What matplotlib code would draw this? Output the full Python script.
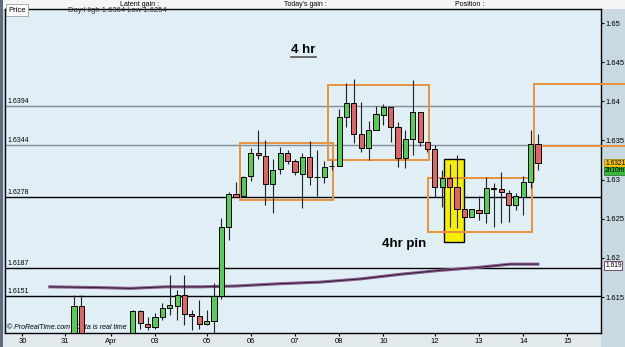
import matplotlib.pyplot as plt
from matplotlib.patches import Rectangle

plt.rcParams['font.family'] = ['Liberation Sans', 'DejaVu Sans']

# 4hr candles, x = bar number (bars 2-7 are below the visible range)
bar_idx = [0, 1] + list(range(8, 64))
opens = [1.6095, 1.6139, 1.6100, 1.6132, 1.6116, 1.6112, 1.6124, 1.6136, 1.6138, 1.6152,
         1.6128, 1.6126, 1.6116, 1.6119, 1.6151, 1.6239, 1.6281, 1.6279, 1.6304, 1.6334,
         1.6330, 1.6294, 1.6313, 1.6334, 1.6324, 1.6307, 1.6329, 1.6303, 1.6303, 1.6317,
         1.6317, 1.6380, 1.6398, 1.6358, 1.6340, 1.6364, 1.6382, 1.6393, 1.6367, 1.6327,
         1.6352, 1.6386, 1.6348, 1.6339, 1.6290, 1.6302, 1.6290, 1.6262, 1.6252, 1.6261,
         1.6257, 1.6289, 1.6288, 1.6283, 1.6267, 1.6278, 1.6297, 1.6345]
closes = [1.6139, 1.6095, 1.6132, 1.6117, 1.6112, 1.6124, 1.6136, 1.6140, 1.6152, 1.6128,
          1.6126, 1.6116, 1.6119, 1.6151, 1.6239, 1.6281, 1.6278, 1.6303, 1.6334, 1.6331,
          1.6294, 1.6312, 1.6334, 1.6324, 1.6310, 1.6329, 1.6303, 1.6303, 1.6316, 1.6317,
          1.6380, 1.6398, 1.6358, 1.6340, 1.6364, 1.6384, 1.6393, 1.6367, 1.6327, 1.6352,
          1.6386, 1.6348, 1.6339, 1.6290, 1.6302, 1.6290, 1.6262, 1.6252, 1.6262, 1.6257,
          1.6289, 1.6288, 1.6284, 1.6267, 1.6279, 1.6297, 1.6345, 1.6321]
highs = [1.6152, 1.6152, 1.6133, 1.6133, 1.6124, 1.6130, 1.6142, 1.6178, 1.6159, 1.6178,
         1.6133, 1.6146, 1.6133, 1.6168, 1.6251, 1.6284, 1.6297, 1.6305, 1.6340, 1.6364,
         1.6350, 1.6326, 1.6342, 1.6338, 1.6326, 1.6334, 1.6349, 1.6338, 1.6324, 1.6325,
         1.6390, 1.6423, 1.6428, 1.6399, 1.6375, 1.6394, 1.6396, 1.6393, 1.6373, 1.6363,
         1.6427, 1.6387, 1.6348, 1.6344, 1.6312, 1.6320, 1.6331, 1.6262, 1.6262, 1.6279,
         1.6303, 1.6296, 1.6310, 1.6287, 1.6283, 1.6304, 1.6364, 1.6358]
lows = [1.6090, 1.6088, 1.6095, 1.6109, 1.6108, 1.6109, 1.6121, 1.6127, 1.6121, 1.6114,
        1.6108, 1.6109, 1.6114, 1.6100, 1.6147, 1.6223, 1.6278, 1.6278, 1.6298, 1.6326,
        1.6267, 1.6257, 1.6307, 1.6320, 1.6306, 1.6264, 1.6293, 1.6279, 1.6296, 1.6312,
        1.6317, 1.6367, 1.6347, 1.6335, 1.6325, 1.6364, 1.6370, 1.6348, 1.6316, 1.6315,
        1.6331, 1.6343, 1.6335, 1.6278, 1.6265, 1.6239, 1.6238, 1.6251, 1.6252, 1.6248,
        1.6244, 1.6239, 1.6244, 1.6246, 1.6261, 1.6255, 1.6289, 1.6312]

# moving average
ma_idx = [-3.3, 3.5, 7.6, 12.4, 17.1, 21.9, 28.0, 33.4, 38.8, 44.3, 49.7, 55.1, 59.2, 63.0]
ma_vals = [1.6163, 1.6162, 1.6161, 1.6163, 1.6163, 1.6164, 1.6167, 1.6169, 1.6173,
           1.6179, 1.6184, 1.6188, 1.6192, 1.6192]

levels = [1.6394, 1.6344, 1.6278, 1.6187, 1.6151]
level_colors = ['#7f8e96', '#7f8e96', 'black', 'black', 'black']

day_pos = [-7, -1.2, 5, 11, 18, 24, 30, 36, 42, 49, 55, 61, 67]
day_labels = ['30', '31', 'Apr', '03', '05', '06', '07', '08', '10', '12', '13', '14', '15']

price_ticks = [1.615, 1.62, 1.625, 1.63, 1.635, 1.64, 1.645, 1.65]
price_labels = ['1.615', '1.62', '1.625', '1.63', '1.635', '1.64', '1.645', '1.65']

# orange boxes: x0, y0, x1, y1
boxes = [(22.5, 1.6274, 35.2, 1.6347),
         (34.5, 1.6325, 48.2, 1.6421),
         (48.1, 1.6233, 62.2, 1.6302)]

up_col = '#55cc55'
down_col = '#e06464'
orange = '#e8923c'

fig = plt.figure(figsize=(6.25, 3.47), dpi=100, facecolor='#c9d9e2')
ax = fig.add_axes([5/625, 14/347, 596/625, 324/347])
ax.set_facecolor('#e0eef6')

# header and bottom strips
fig.patches.append(Rectangle((0, 1 - 9/347), 1, 9/347, transform=fig.transFigure,
                             facecolor='#f3f5f6', edgecolor='none', zorder=-2))
fig.patches.append(Rectangle((0, 0), 601/625, 14/347, transform=fig.transFigure,
                             facecolor='#e2e9ed', edgecolor='none', zorder=-2))
fig.patches.append(Rectangle((0, 0), 3/625, 1, transform=fig.transFigure,
                             facecolor='#5c6c7c', edgecolor='none', zorder=-2))
fig.text(140/625, 1 - 4/347, 'Latent gain :', fontsize=5, ha='center', va='center')
fig.text(305/625, 1 - 4/347, "Today's gain :", fontsize=5, ha='center', va='center')
fig.text(470/625, 1 - 4/347, 'Position :', fontsize=5, ha='center', va='center')

# level lines
for lv, lc in zip(levels, level_colors):
    ax.axhline(lv, color=lc, lw=1, zorder=1)
    ax.text(-9.1, lv + 0.0001, '%.4f' % lv, fontsize=5, va='bottom', ha='left')

# moving average
ax.plot(ma_idx, ma_vals, color='#8a5a8e', lw=2.2, zorder=2)
ax.plot(ma_idx, ma_vals, color='#2a1a2a', lw=0.6, zorder=2)

# annotation boxes
for x0, y0, x1, y1 in boxes:
    ax.add_patch(Rectangle((x0, y0), x1 - x0, y1 - y0, fill=False,
                           edgecolor=orange, lw=1.4, zorder=3))
ax.add_patch(Rectangle((62.46, 1.6343), 13, 1.6422 - 1.6343, fill=False,
                       edgecolor=orange, lw=1.4, zorder=3, clip_on=False))
ax.plot([62.46, 62.46], [1.6343, 1.6299], color=orange, lw=1.4, zorder=3)
ax.add_patch(Rectangle((50.24, 1.6220), 2.7, 1.6326 - 1.6220, facecolor='#f6f000',
                       edgecolor='black', lw=1, zorder=2))

# candles
ax.vlines(bar_idx, lows, highs, color='#222222', lw=0.8, zorder=4)
for i, o, c in zip(bar_idx, opens, closes):
    col = up_col if c >= o else down_col
    ax.bar(i, c - o, bottom=o, width=0.7, color=col, edgecolor='black', lw=0.7, zorder=5)

ax.text(31.1, 1.6466, '4 hr', fontsize=9.5, fontweight='bold', ha='center', va='center')
ax.plot([29.4, 32.9], [1.6457, 1.6457], color='#555555', lw=1.2)
ax.text(44.8, 1.6218, '4hr pin', fontsize=9.5, fontweight='bold', ha='center', va='center')
ax.text(-9.1, 1.6107, '\u00a9 ProRealTime.com   Data is real time', fontsize=5,
        ha='left', va='bottom', style='italic')

ax.set_xlim(-9.37, 71.56)
ax.set_ylim(1.6104, 1.6518)
ax.set_xticks(day_pos)
ax.set_xticklabels(day_labels)
ax.yaxis.tick_right()
ax.set_yticks(price_ticks)
ax.set_yticklabels(price_labels)
ax.tick_params(axis='both', labelsize=5.5, length=2.5, pad=1)
for sp in ax.spines.values():
    sp.set_linewidth(1)

# price tags on the right axis
tag = dict(fontsize=4.8, ha='left', va='center', transform=ax.get_yaxis_transform(), clip_on=False)
ax.text(1.007, 1.6321, '1.6321', bbox=dict(boxstyle='square,pad=0.12', fc='#f5c400', ec='#a08000', lw=0.5), **tag)
ax.text(1.007, 1.6311, '2h10m', bbox=dict(boxstyle='square,pad=0.12', fc='#3cb83c', ec='#207020', lw=0.5), **tag)
ax.text(1.007, 1.6190, '1.619', bbox=dict(boxstyle='square,pad=0.12', fc='white', ec='#603060', lw=0.6), **tag)

# "Price" tab in the top-left
fig.text(8/625, 1 - 10/347, 'Price', fontsize=5.5, va='center',
         bbox=dict(boxstyle='square,pad=0.3', fc='white', ec='#888888', lw=0.5))
fig.text(68/625, 1 - 10/347, 'Day:High 1.6364 Low 1.6254', fontsize=5.5, va='center', color='#333333')

fig.savefig('out.png', dpi=100, facecolor=fig.get_facecolor())
